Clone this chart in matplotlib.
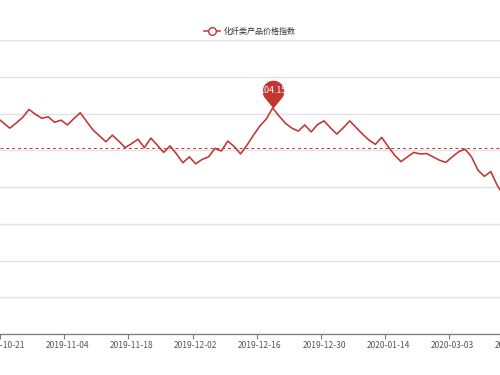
import numpy as np
import matplotlib
matplotlib.use("Agg")
import matplotlib.pyplot as plt
from matplotlib.path import Path
from matplotlib.lines import Line2D

plt.rcParams['font.family'] = ['Noto Sans CJK SC', 'DejaVu Sans']

# daily index values (first point sits just left of the visible window)
index_values = [
    103.89, 103.75, 103.60, 103.74, 103.89, 104.11, 103.98, 103.87, 103.91, 103.76,
    103.82, 103.69, 103.86, 104.02, 103.78, 103.55, 103.39, 103.23, 103.41, 103.25,
    103.07, 103.18, 103.30, 103.07, 103.33, 103.14, 102.94, 103.12, 102.90, 102.66,
    102.82, 102.63, 102.75, 102.82, 103.05, 102.98, 103.25, 103.10, 102.90, 103.14,
    103.41, 103.66, 103.85, 104.15, 103.93, 103.73, 103.60, 103.52, 103.69, 103.50,
    103.70, 103.80, 103.61, 103.44, 103.61, 103.80, 103.62, 103.44, 103.28, 103.16,
    103.35, 103.10, 102.87, 102.69, 102.82, 102.94, 102.90, 102.91, 102.82, 102.73,
    102.67, 102.82, 102.96, 103.03, 102.82, 102.46, 102.29, 102.42, 102.05, 101.76,
]
first_index = -1
tick_labels = ['2019-10-21', '2019-11-04', '2019-11-18', '2019-12-02', '2019-12-16',
               '2019-12-30', '2020-01-14', '2020-03-03', '2020-03-17']
label_step = 10
average_value = 103.06
series_name = '化纤类产品价格指数'

red = '#c23531'
x = np.arange(len(index_values)) + first_index
y = np.array(index_values)

fig = plt.figure(figsize=(5, 3.75), dpi=100)
ax = fig.add_axes([0, 41 / 375, 1, 294 / 375])

ax.set_yticks(np.arange(98, 107, 1))
ax.yaxis.grid(True, color='#e3e3e3', linewidth=1.0)
ax.tick_params(axis='y', length=0, labelleft=False)
for s in ['left', 'right', 'top']:
    ax.spines[s].set_visible(False)
ax.spines['bottom'].set_color('#7a7a7a')
ax.spines['bottom'].set_linewidth(0.9)

label_pos = np.arange(len(tick_labels)) * label_step
ax.set_xticks(label_pos - 0.5)
ax.set_xticklabels([])
ax.tick_params(axis='x', length=3.5, width=0.8, color='#7a7a7a')

# limits after the ticks, otherwise set_xticks widens the view
ax.set_xlim(-0.514, 77.44)
ax.set_ylim(98, 106)

for p, lab in zip(label_pos, tick_labels):
    ax.text(p, -11 / 294, lab, transform=ax.get_xaxis_transform(), ha='center', va='center',
            fontsize=6.1, color='#555555', clip_on=False)

ax.plot(x, y, color=red, linewidth=1.15, zorder=3)
ax.axhline(average_value, color=red, linewidth=0.7, linestyle=(0, (3, 3)), zorder=2)

# pin marker on the maximum
imax = int(np.argmax(y))
r, c = 10.8, 17.0
beta = np.arccos(r / c)
angles = np.linspace(-np.pi / 2 + beta, 3 * np.pi / 2 - beta, 60)
verts = [(0, 0)] + [(r * np.cos(a), c + r * np.sin(a)) for a in angles] + [(0, 0)]
pin = Path(verts, closed=True)
hpx = c + r
ax.plot(x[imax], y[imax], marker=pin, markersize=2 * hpx * 72 / 100, color=red,
        markeredgewidth=0, linestyle='none', zorder=4)
ax.annotate(f'{y[imax]:.2f}', xy=(x[imax], y[imax]), xytext=(0, c + 0.5),
            textcoords='offset pixels', ha='center', va='center', fontsize=6.4,
            color='white', zorder=5)

# legend
fig.add_artist(Line2D([204 / 500, 220 / 500], [344 / 375, 344 / 375], color=red, linewidth=1.1))
fig.add_artist(Line2D([212 / 500], [344 / 375], marker='o', markersize=5.5, markerfacecolor='white',
                      markeredgecolor=red, markeredgewidth=1.0))
fig.text(224 / 500, 344 / 375, series_name, ha='left', va='center', fontsize=5.8, color='#333333')

fig.savefig('out.png', dpi=100)
